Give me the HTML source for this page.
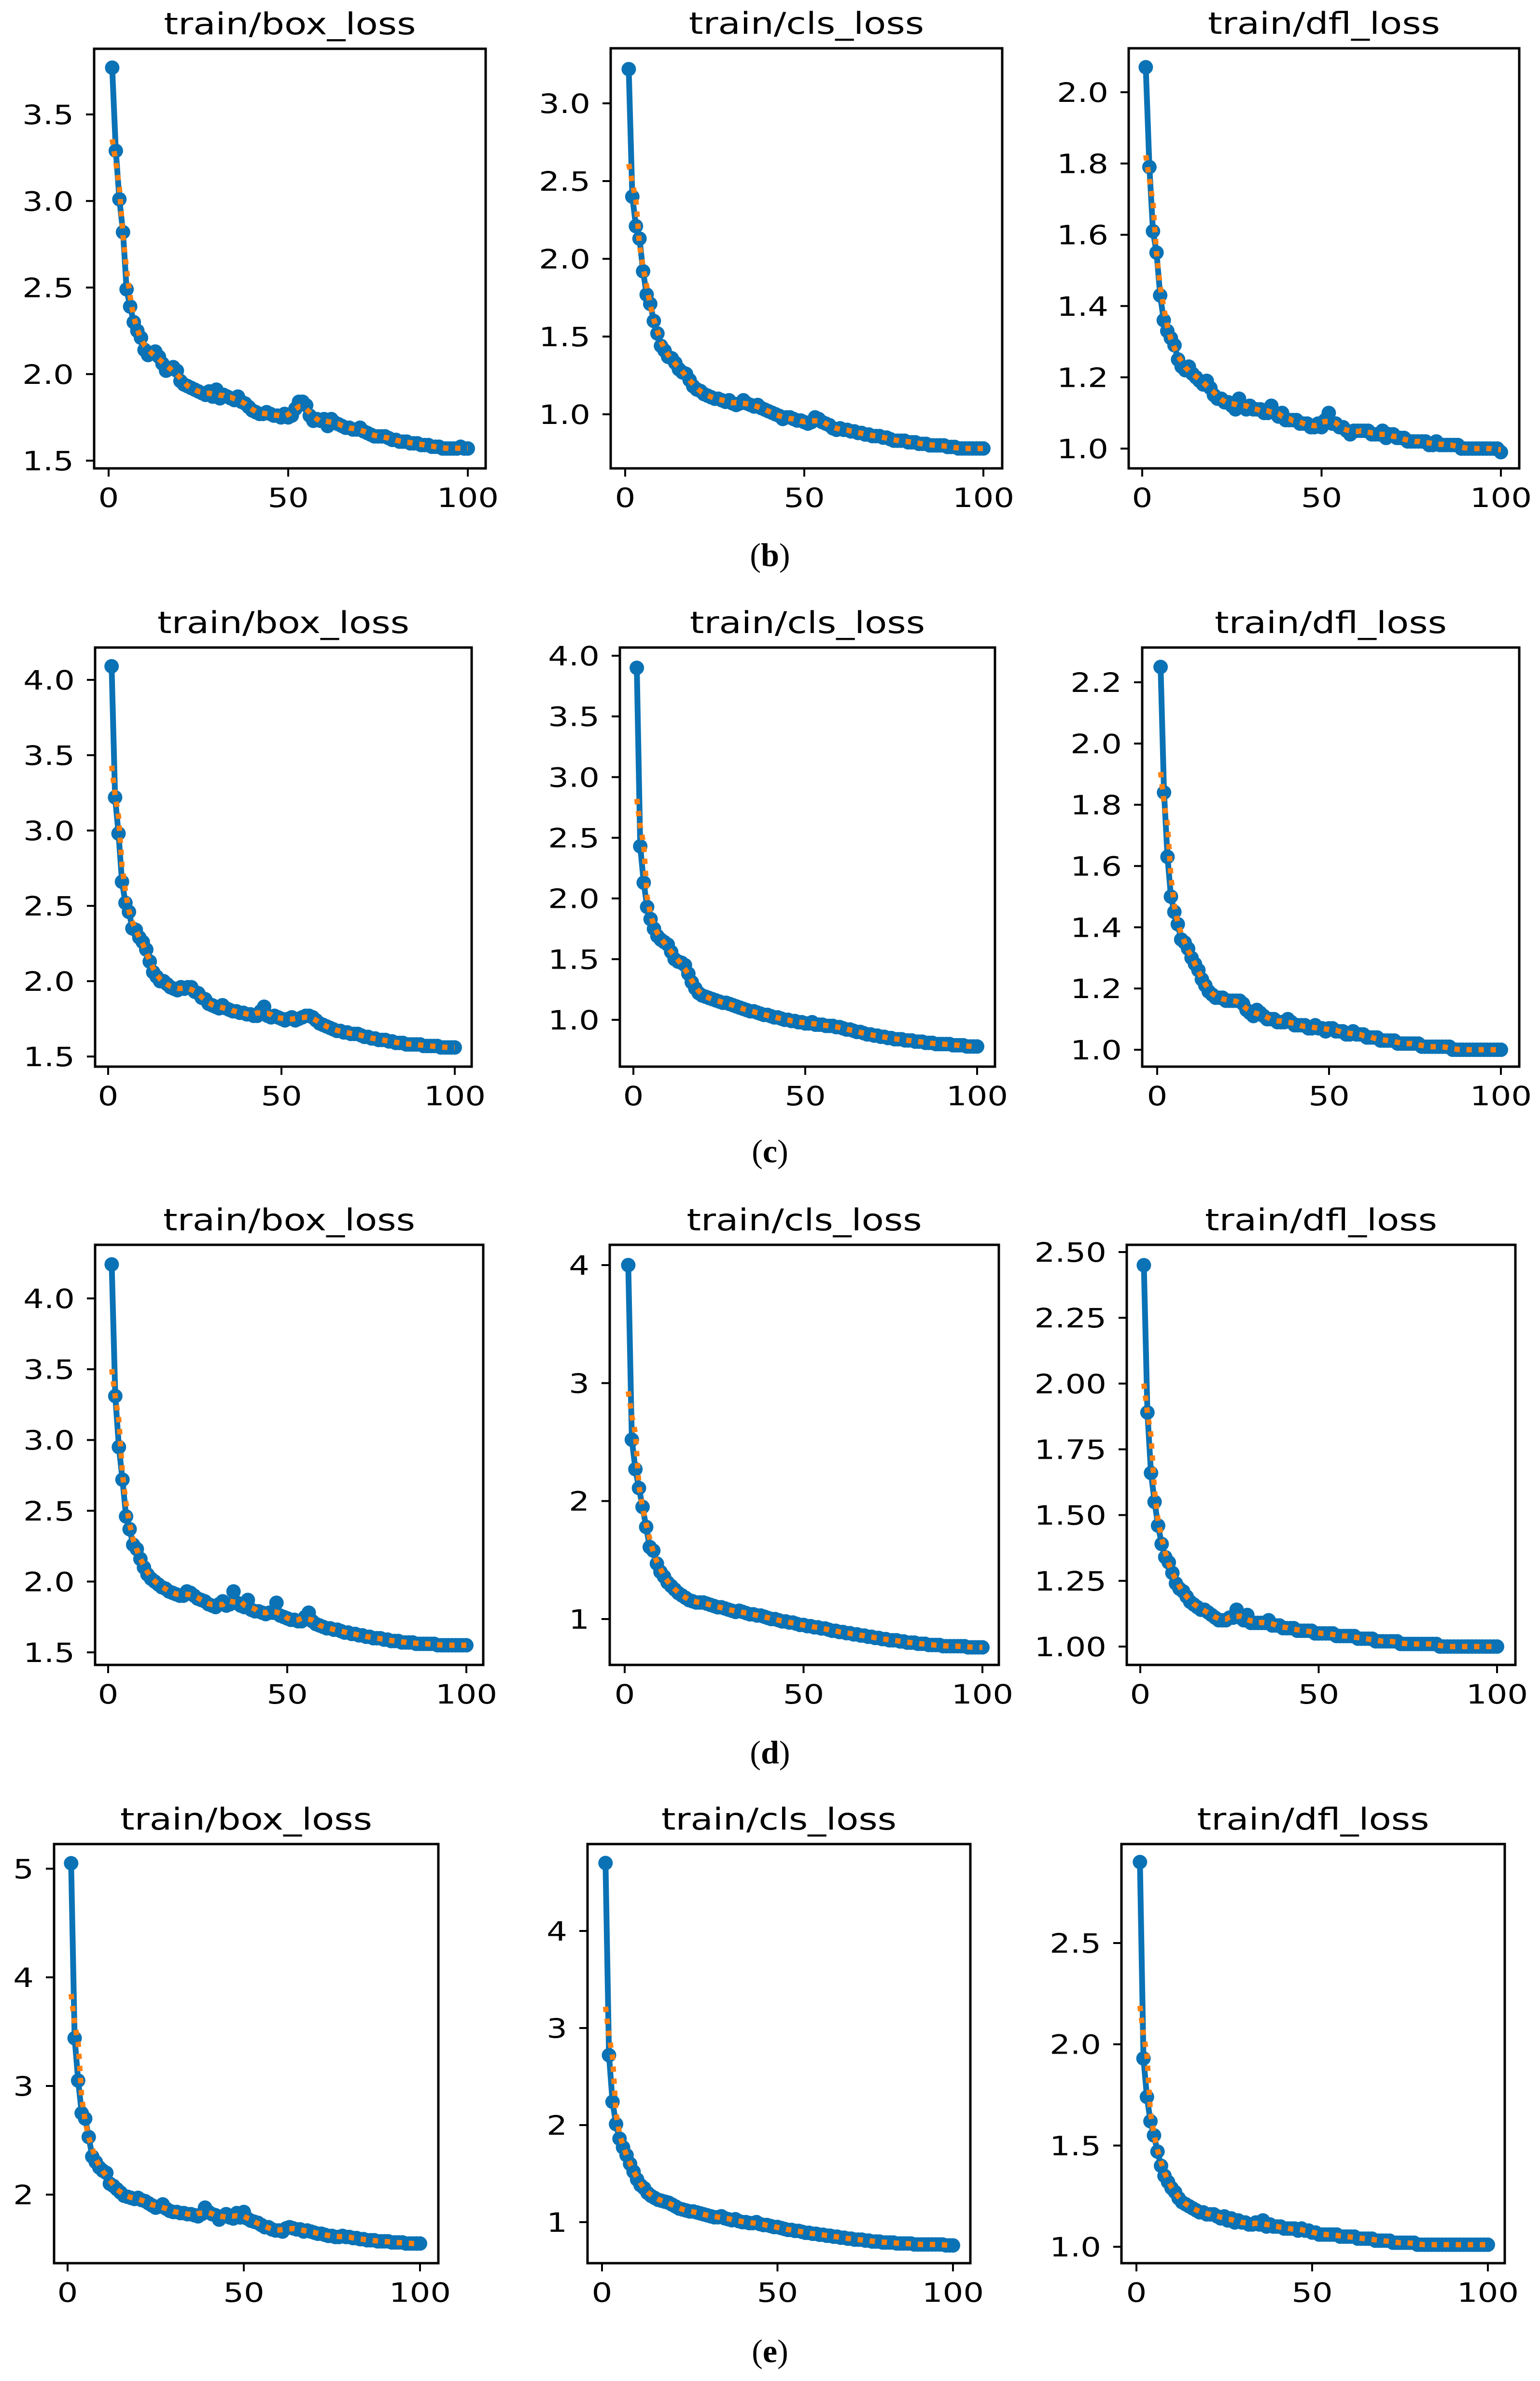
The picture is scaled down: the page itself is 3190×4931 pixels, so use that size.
<!DOCTYPE html>
<html><head><meta charset="utf-8">
<style>
html,body{margin:0;padding:0;background:#fff;}
svg{display:block;}
</style></head>
<body>
<svg id="fig" width="3190" height="4931" viewBox="0 0 3190 4931" xmlns="http://www.w3.org/2000/svg">
<rect width="3190" height="4931" fill="#fff"/>
</svg>
<script>
// ---- data (values per epoch, epochs 1..N) ----
const epochTicks = [0, 50, 100];
const panelTitles = ["train/box_loss", "train/cls_loss", "train/dfl_loss"];
const rowLabels = ["b", "c", "d", "e"];

const b_box = [3.77,3.29,3.01,2.82,2.49,2.39,2.30,2.25,2.21,2.14,2.11,2.12,2.13,2.10,2.06,2.02,2.03,2.04,2.02,1.96,1.94,1.93,1.92,1.91,1.90,1.89,1.88,1.90,1.87,1.91,1.86,1.88,1.87,1.86,1.85,1.87,1.84,1.83,1.81,1.79,1.78,1.77,1.77,1.78,1.77,1.76,1.76,1.75,1.77,1.75,1.76,1.80,1.84,1.84,1.82,1.76,1.73,1.74,1.73,1.74,1.70,1.74,1.72,1.71,1.70,1.69,1.69,1.68,1.68,1.69,1.67,1.66,1.65,1.64,1.64,1.64,1.64,1.63,1.62,1.62,1.61,1.61,1.61,1.60,1.60,1.60,1.59,1.59,1.59,1.58,1.58,1.58,1.57,1.57,1.57,1.57,1.57,1.58,1.57,1.57];
const b_cls = [3.22,2.40,2.21,2.13,1.92,1.77,1.71,1.60,1.52,1.44,1.41,1.37,1.36,1.33,1.29,1.27,1.26,1.22,1.18,1.16,1.15,1.13,1.12,1.11,1.10,1.10,1.09,1.08,1.09,1.07,1.06,1.07,1.09,1.07,1.06,1.05,1.06,1.04,1.03,1.02,1.01,1.00,0.99,0.97,0.98,0.98,0.97,0.96,0.96,0.95,0.94,0.95,0.98,0.97,0.95,0.94,0.93,0.91,0.90,0.91,0.90,0.90,0.89,0.89,0.88,0.88,0.87,0.87,0.86,0.86,0.86,0.85,0.85,0.84,0.83,0.83,0.83,0.83,0.82,0.82,0.82,0.81,0.81,0.81,0.80,0.80,0.80,0.80,0.80,0.79,0.79,0.79,0.78,0.78,0.78,0.78,0.78,0.78,0.78,0.78];
const b_dfl = [2.07,1.79,1.61,1.55,1.43,1.36,1.33,1.31,1.29,1.25,1.23,1.22,1.23,1.21,1.20,1.19,1.18,1.19,1.17,1.15,1.14,1.14,1.13,1.13,1.12,1.11,1.14,1.12,1.11,1.12,1.11,1.11,1.11,1.10,1.10,1.12,1.10,1.09,1.10,1.08,1.08,1.08,1.08,1.07,1.07,1.07,1.06,1.06,1.07,1.06,1.08,1.10,1.07,1.07,1.06,1.06,1.05,1.04,1.05,1.05,1.05,1.05,1.05,1.04,1.04,1.04,1.05,1.03,1.04,1.04,1.03,1.03,1.03,1.02,1.02,1.02,1.02,1.02,1.02,1.01,1.01,1.02,1.01,1.01,1.01,1.01,1.01,1.01,1.00,1.00,1.00,1.00,1.00,1.00,1.00,1.00,1.00,1.00,1.00,0.99];

const c_box = [4.09,3.22,2.98,2.66,2.52,2.46,2.35,2.34,2.29,2.26,2.21,2.13,2.06,2.03,2.00,2.00,1.98,1.96,1.95,1.94,1.96,1.95,1.96,1.96,1.93,1.92,1.89,1.88,1.85,1.84,1.83,1.82,1.84,1.82,1.81,1.80,1.80,1.79,1.79,1.78,1.78,1.77,1.77,1.80,1.83,1.77,1.76,1.77,1.76,1.75,1.74,1.75,1.76,1.74,1.75,1.76,1.77,1.77,1.76,1.74,1.72,1.71,1.70,1.69,1.68,1.67,1.67,1.66,1.66,1.65,1.65,1.65,1.64,1.63,1.63,1.62,1.62,1.61,1.61,1.61,1.60,1.60,1.59,1.59,1.59,1.58,1.58,1.58,1.58,1.58,1.57,1.57,1.57,1.57,1.57,1.56,1.56,1.56,1.56,1.56];
const c_cls = [3.90,2.43,2.13,1.93,1.83,1.75,1.69,1.66,1.64,1.62,1.56,1.50,1.48,1.47,1.45,1.38,1.31,1.26,1.22,1.20,1.19,1.18,1.17,1.16,1.15,1.14,1.14,1.13,1.12,1.11,1.10,1.09,1.08,1.07,1.07,1.06,1.05,1.04,1.04,1.03,1.02,1.02,1.01,1.00,1.00,0.99,0.99,0.98,0.98,0.97,0.97,0.98,0.96,0.96,0.96,0.95,0.95,0.95,0.94,0.94,0.93,0.92,0.92,0.91,0.90,0.90,0.89,0.88,0.88,0.87,0.87,0.86,0.86,0.85,0.85,0.84,0.84,0.84,0.83,0.83,0.83,0.82,0.82,0.82,0.81,0.81,0.81,0.80,0.80,0.80,0.80,0.80,0.79,0.79,0.79,0.79,0.78,0.78,0.78,0.78];
const c_dfl = [2.25,1.84,1.63,1.50,1.45,1.41,1.36,1.35,1.33,1.30,1.28,1.26,1.23,1.21,1.19,1.18,1.17,1.17,1.17,1.16,1.16,1.16,1.16,1.16,1.15,1.13,1.12,1.11,1.13,1.12,1.11,1.10,1.10,1.10,1.09,1.09,1.09,1.10,1.09,1.08,1.08,1.08,1.08,1.07,1.07,1.08,1.07,1.07,1.06,1.07,1.07,1.06,1.06,1.06,1.05,1.05,1.06,1.05,1.05,1.05,1.04,1.04,1.04,1.04,1.03,1.03,1.03,1.03,1.03,1.02,1.02,1.02,1.02,1.02,1.02,1.02,1.01,1.01,1.01,1.01,1.01,1.01,1.01,1.01,1.01,1.00,1.00,1.00,1.00,1.00,1.00,1.00,1.00,1.00,1.00,1.00,1.00,1.00,1.00,1.00];

const d_box = [4.24,3.31,2.95,2.72,2.46,2.37,2.26,2.23,2.16,2.10,2.05,2.02,2.00,1.98,1.96,1.95,1.93,1.92,1.91,1.90,1.90,1.93,1.92,1.90,1.88,1.87,1.86,1.84,1.83,1.82,1.84,1.86,1.83,1.84,1.93,1.85,1.83,1.82,1.87,1.80,1.79,1.79,1.78,1.77,1.78,1.78,1.85,1.76,1.75,1.74,1.73,1.73,1.72,1.72,1.75,1.78,1.72,1.70,1.69,1.68,1.67,1.67,1.66,1.66,1.65,1.64,1.64,1.63,1.63,1.62,1.62,1.61,1.61,1.60,1.60,1.60,1.59,1.59,1.58,1.58,1.58,1.57,1.57,1.57,1.57,1.56,1.56,1.56,1.56,1.56,1.56,1.55,1.55,1.55,1.55,1.55,1.55,1.55,1.55,1.55];
const d_cls = [4.00,2.52,2.27,2.11,1.95,1.78,1.61,1.58,1.47,1.40,1.36,1.31,1.28,1.25,1.22,1.20,1.18,1.16,1.15,1.14,1.14,1.14,1.13,1.12,1.11,1.10,1.10,1.09,1.08,1.07,1.06,1.07,1.06,1.05,1.04,1.04,1.03,1.03,1.02,1.01,1.00,1.00,0.99,0.98,0.98,0.97,0.97,0.96,0.95,0.95,0.94,0.94,0.93,0.93,0.92,0.92,0.91,0.90,0.90,0.89,0.89,0.88,0.88,0.87,0.87,0.86,0.86,0.85,0.85,0.84,0.84,0.83,0.83,0.82,0.82,0.82,0.81,0.81,0.80,0.80,0.80,0.79,0.79,0.79,0.78,0.78,0.78,0.78,0.77,0.77,0.77,0.77,0.77,0.77,0.77,0.76,0.76,0.76,0.76,0.76];
const d_dfl = [2.45,1.89,1.66,1.55,1.46,1.39,1.34,1.32,1.28,1.24,1.22,1.21,1.19,1.17,1.16,1.15,1.14,1.14,1.13,1.12,1.11,1.10,1.10,1.10,1.11,1.11,1.14,1.11,1.10,1.12,1.09,1.09,1.09,1.09,1.09,1.10,1.08,1.08,1.08,1.07,1.07,1.07,1.07,1.06,1.06,1.06,1.06,1.06,1.05,1.05,1.05,1.05,1.05,1.05,1.04,1.04,1.04,1.04,1.04,1.04,1.03,1.03,1.03,1.03,1.03,1.02,1.02,1.02,1.02,1.02,1.02,1.02,1.01,1.01,1.01,1.01,1.01,1.01,1.01,1.01,1.01,1.01,1.01,1.00,1.00,1.00,1.00,1.00,1.00,1.00,1.00,1.00,1.00,1.00,1.00,1.00,1.00,1.00,1.00,1.00];

const e_box = [5.05,3.44,3.05,2.75,2.70,2.53,2.35,2.30,2.25,2.22,2.20,2.10,2.08,2.05,2.02,1.99,1.98,1.97,1.96,1.97,1.95,1.94,1.92,1.90,1.88,1.89,1.91,1.87,1.85,1.84,1.84,1.83,1.83,1.82,1.82,1.81,1.80,1.82,1.88,1.84,1.82,1.81,1.77,1.80,1.82,1.79,1.78,1.83,1.79,1.84,1.78,1.76,1.75,1.74,1.72,1.70,1.70,1.68,1.67,1.67,1.66,1.69,1.70,1.69,1.68,1.68,1.66,1.67,1.66,1.65,1.64,1.64,1.63,1.62,1.62,1.61,1.61,1.62,1.61,1.61,1.60,1.60,1.59,1.59,1.58,1.58,1.58,1.57,1.57,1.57,1.57,1.56,1.56,1.56,1.56,1.55,1.55,1.55,1.55,1.55];
const e_cls = [4.70,2.72,2.24,2.01,1.86,1.77,1.69,1.60,1.52,1.44,1.38,1.35,1.30,1.27,1.25,1.23,1.22,1.21,1.20,1.18,1.16,1.14,1.13,1.12,1.11,1.11,1.10,1.09,1.08,1.07,1.06,1.05,1.05,1.06,1.04,1.03,1.02,1.03,1.01,1.00,1.00,0.99,0.99,1.00,0.98,0.97,0.97,0.96,0.95,0.95,0.94,0.93,0.92,0.92,0.91,0.91,0.90,0.89,0.89,0.88,0.88,0.87,0.87,0.86,0.86,0.85,0.85,0.84,0.84,0.83,0.83,0.82,0.82,0.82,0.81,0.81,0.80,0.80,0.80,0.79,0.79,0.79,0.79,0.78,0.78,0.78,0.78,0.78,0.77,0.77,0.77,0.77,0.77,0.77,0.77,0.77,0.77,0.76,0.76,0.76];
const e_dfl = [2.90,1.93,1.74,1.62,1.55,1.47,1.40,1.35,1.32,1.29,1.27,1.24,1.22,1.21,1.20,1.19,1.18,1.17,1.17,1.16,1.16,1.16,1.15,1.14,1.15,1.13,1.14,1.12,1.13,1.12,1.12,1.11,1.11,1.12,1.11,1.13,1.10,1.11,1.10,1.10,1.10,1.09,1.09,1.09,1.09,1.08,1.09,1.08,1.08,1.07,1.07,1.06,1.06,1.06,1.06,1.06,1.06,1.05,1.05,1.05,1.05,1.05,1.04,1.04,1.04,1.04,1.04,1.03,1.03,1.03,1.03,1.03,1.02,1.02,1.02,1.02,1.02,1.02,1.02,1.01,1.01,1.01,1.01,1.01,1.01,1.01,1.01,1.01,1.01,1.01,1.01,1.01,1.01,1.01,1.01,1.01,1.01,1.01,1.01,1.01];

// y tick labels per panel
const ticks_b_box = ["1.5","2.0","2.5","3.0","3.5"];
const ticks_b_cls = ["1.0","1.5","2.0","2.5","3.0"];
const ticks_b_dfl = ["1.0","1.2","1.4","1.6","1.8","2.0"];
const ticks_c_box = ["1.5","2.0","2.5","3.0","3.5","4.0"];
const ticks_c_cls = ["1.0","1.5","2.0","2.5","3.0","3.5","4.0"];
const ticks_c_dfl = ["1.0","1.2","1.4","1.6","1.8","2.0","2.2"];
const ticks_d_box = ["1.5","2.0","2.5","3.0","3.5","4.0"];
const ticks_d_cls = ["1","2","3","4"];
const ticks_d_dfl = ["1.00","1.25","1.50","1.75","2.00","2.25","2.50"];
const ticks_e_box = ["2","3","4","5"];
const ticks_e_cls = ["1","2","3","4"];
const ticks_e_dfl = ["1.0","1.5","2.0","2.5"];

// ---- layout (pixel geometry, not data) ----
const NS = "http://www.w3.org/2000/svg";
const svg = document.getElementById("fig");
const BLUE = "#0a72b5", ORANGE = "#ff800e";
const FONT = "DejaVu Sans, Liberation Sans, sans-serif";
const SX = 1.22;

const panels = [
 {row:0,col:0,d:b_box,t:ticks_b_box,l:195,tp:101,r:1006,bt:970,x0:225,x1:969,va:3.5,pa:237,vb:1.5,pb:954},
 {row:0,col:1,d:b_cls,t:ticks_b_cls,l:1265,tp:100,r:2076,bt:970,x0:1295,x1:2037,va:3.0,pa:214,vb:1.0,pb:858},
 {row:0,col:2,d:b_dfl,t:ticks_b_dfl,l:2338,tp:100,r:3147,bt:970,x0:2366,x1:3109,va:2.0,pa:191,vb:1.0,pb:929},
 {row:1,col:0,d:c_box,t:ticks_c_box,l:197,tp:1341,r:977,bt:2209,x0:224,x1:942,va:4.0,pa:1408,vb:1.5,pb:2188},
 {row:1,col:1,d:c_cls,t:ticks_c_cls,l:1284,tp:1341,r:2061,bt:2209,x0:1312,x1:2024,va:4.0,pa:1358,vb:1.0,pb:2112},
 {row:1,col:2,d:c_dfl,t:ticks_c_dfl,l:2366,tp:1341,r:3147,bt:2209,x0:2397,x1:3109,va:2.2,pa:1413,vb:1.0,pb:2174},
 {row:2,col:0,d:d_box,t:ticks_d_box,l:197,tp:2578,r:1001,bt:3448,x0:224,x1:966,va:4.0,pa:2689,vb:1.5,pb:3422},
 {row:2,col:1,d:d_cls,t:ticks_d_cls,l:1263,tp:2578,r:2069,bt:3448,x0:1294,x1:2035,va:4.0,pa:2620,vb:1.0,pb:3353},
 {row:2,col:2,d:d_dfl,t:ticks_d_dfl,l:2334,tp:2578,r:3139,bt:3448,x0:2362,x1:3101,va:2.5,pa:2593,vb:1.0,pb:3410},
 {row:3,col:0,d:e_box,t:ticks_e_box,l:112,tp:3819,r:908,bt:4687,x0:140,x1:870,va:5.0,pa:3870,vb:2.0,pb:4545},
 {row:3,col:1,d:e_cls,t:ticks_e_cls,l:1217,tp:3819,r:2010,bt:4687,x0:1247,x1:1974,va:4.0,pa:3999,vb:1.0,pb:4602},
 {row:3,col:2,d:e_dfl,t:ticks_e_dfl,l:2323,tp:3819,r:3117,bt:4687,x0:2354,x1:3082,va:2.5,pa:4024,vb:1.0,pb:4653}
];
const labelY = [1150, 2385, 3630, 4870];

function mk(tag, attrs, parent){
  const el = document.createElementNS(NS, tag);
  for (const k in attrs) el.setAttribute(k, attrs[k]);
  (parent||svg).appendChild(el);
  return el;
}
function smooth(arr){
  const out = [];
  for (let i=0;i<arr.length;i++){
    let s=0,n=0;
    for (let j=i-2;j<=i+2;j++){ if(j>=0&&j<arr.length){s+=arr[j];n++;} }
    out.push(s/n);
  }
  return out;
}
function stext(parent, x, y, size, anchor, str){
  const t = mk("text",{x:0,y:0,"text-anchor":anchor,"font-family":FONT,"font-size":size,fill:"#000",
    transform:"translate("+x+","+y+") scale("+SX+",1)"}, parent);
  t.textContent = str;
  return t;
}

panels.forEach(p=>{
  const xs = e => p.x0 + (e-0)/(100-0)*(p.x1-p.x0);
  const ys = v => p.pb + (v-p.vb)/(p.va-p.vb)*(p.pa-p.pb);
  const g = mk("g",{});
  
  

  const title = stext(g, (p.l+p.r)/2, p.tp-30, 62, "middle", panelTitles[p.col]);
  
  

  p.t.forEach(lbl=>{
    const v = parseFloat(lbl), y = ys(v);
    const tk = mk("line",{x1:p.l-17,x2:p.l,y1:y,y2:y,stroke:"#000","stroke-width":4}, g);
    
    
    const tx = stext(g, p.l-42, y+20, 55, "end", lbl);
    
    
  });
  epochTicks.forEach(e=>{
    const x = xs(e);
    const tk = mk("line",{x1:x,x2:x,y1:p.bt,y2:p.bt+17,stroke:"#000","stroke-width":4}, g);
    
    
    const tx = stext(g, x, p.bt+80, 55, "middle", String(e));
    
    
  });

  const pts = p.d.map((v,i)=>[xs(i+1), ys(v)]);
  const line = mk("polyline",{points:pts.map(q=>q[0].toFixed(1)+","+q[1].toFixed(1)).join(" "),
    fill:"none",stroke:BLUE,"stroke-width":12,"stroke-linejoin":"round"}, g);
  
  
  pts.forEach(q=>{
    const c = mk("circle",{cx:q[0].toFixed(1),cy:q[1].toFixed(1),r:15,fill:BLUE}, g);
    
    
  });
  const sm = smooth(p.d);
  const sl = mk("polyline",{points:sm.map((v,i)=>xs(i+1).toFixed(1)+","+ys(v).toFixed(1)).join(" "),
    fill:"none",stroke:ORANGE,"stroke-width":11,"stroke-dasharray":"11 14"}, g);
  
  

  const fr = mk("rect",{x:p.l,y:p.tp,width:p.r-p.l,height:p.bt-p.tp,fill:"none",stroke:"#000","stroke-width":5}, g);
  
  
});

rowLabels.forEach((lb,i)=>{
  const t = mk("text",{x:1595,y:labelY[i]+22,"text-anchor":"middle",
    "font-family":"Liberation Serif, serif","font-size":68,fill:"#000"});
  
  
  const a = mk("tspan",{},t); a.textContent="(";
  const b = mk("tspan",{"font-weight":"bold"},t); b.textContent=lb;
  const c = mk("tspan",{},t); c.textContent=")";
});
</script>
</body></html>
